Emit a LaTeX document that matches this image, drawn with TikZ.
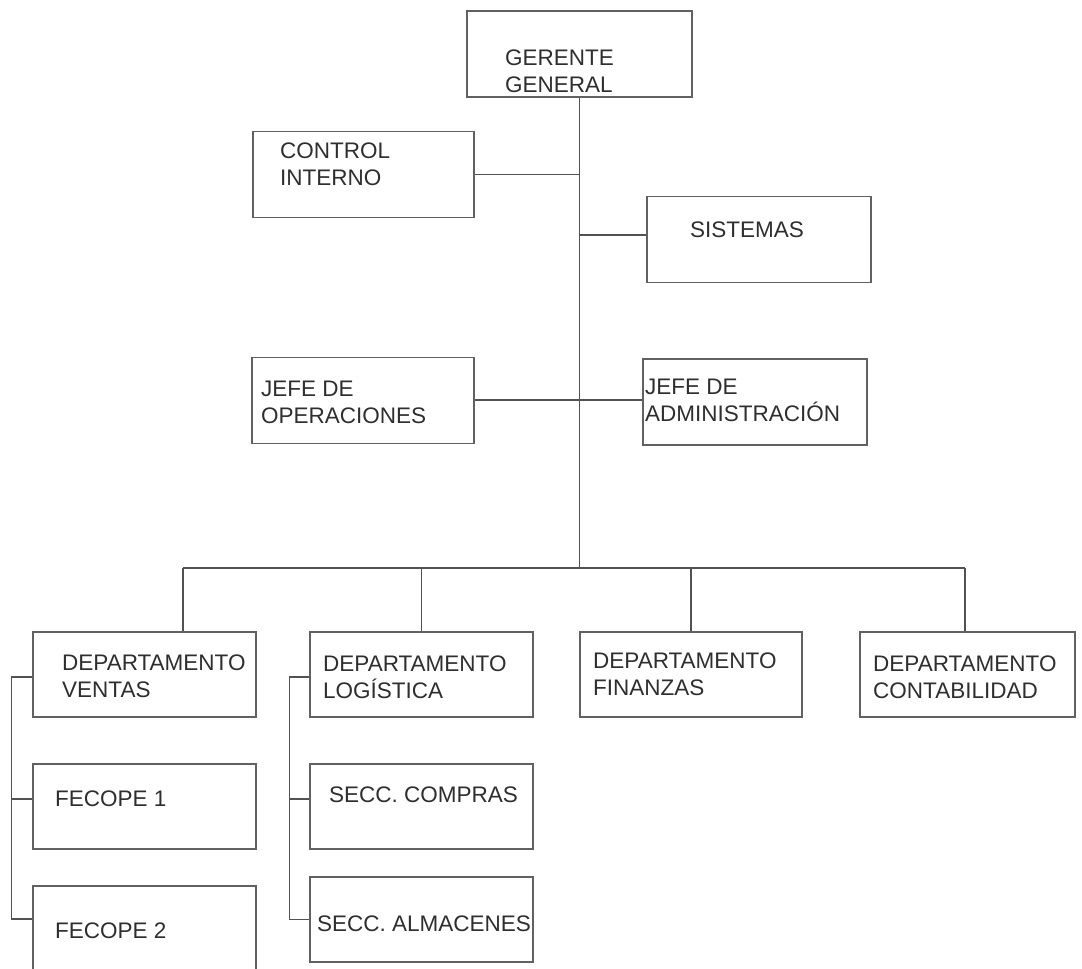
\documentclass[tikz,border=0pt]{standalone}
\usepackage{fontspec}
\setmainfont{Liberation Sans}
\usetikzlibrary{calc}
\tikzset{
	caja/.style={draw=black!62, line width=1.6pt, rectangle, inner sep=0pt, minimum width=223pt, minimum height=86pt},
	rotulo/.style={anchor=base west, inner sep=0pt, align=left, text=black!82, font=\fontsize{22.5}{26.5}\selectfont},
	linea/.style={draw=black!68, line width=1.4pt}
}

\begin{document}
\begin{tikzpicture}[x=1pt, y=-1pt]
			%%%%% START %%%%%
			\useasboundingbox (0, 0) rectangle (1082, 969);
			
			% cajas
			\node[caja, minimum width=225pt] (gerente) at (579.5, 54) {};
			\node[caja, minimum width=221pt] (control) at (363.5, 174.5) {};
			\node[caja, minimum width=224pt] (sistemas) at (759, 239.5) {};
			\node[caja, minimum width=222pt] (jefeop) at (363, 400.5) {};
			\node[caja, minimum width=224pt] (jefeadm) at (755, 402) {};
			
			\node[caja, minimum height=85pt] (dventas) at (144.5, 674.5) {};
			\node[caja, minimum height=85pt] (dlogis) at (421.5, 674.5) {};
			\node[caja, minimum height=85pt, minimum width=222pt] (dfinan) at (691, 674.5) {};
			\node[caja, minimum height=85pt, minimum width=215pt] (dconta) at (967.5, 674.5) {};
			
			\node[caja, minimum height=85pt] (fecope1) at (144.5, 806.5) {};
			\node[caja, minimum height=85pt] (fecope2) at (144.5, 928.5) {};
			\node[caja, minimum height=85pt] (compras) at (421.5, 806.5) {};
			\node[caja, minimum height=85pt] (almacenes) at (421.5, 919.5) {};
			
			% textos (base = ultima linea)
			\node[rotulo] (t-gerente) at (505, 92) {GERENTE\\GENERAL};
			\node[rotulo] (t-control) at (280, 185) {CONTROL\\INTERNO};
			\node[rotulo] (t-sistemas) at (690, 237) {SISTEMAS};
			\node[rotulo] (t-jefeop) at (261, 423) {JEFE DE\\OPERACIONES};
			\node[rotulo] (t-jefeadm) at (645, 421) {JEFE DE\\ADMINISTRACIÓN};
			\node[rotulo] (t-dventas) at (62, 697) {DEPARTAMENTO\\VENTAS};
			\node[rotulo] (t-dlogis) at (323, 698) {DEPARTAMENTO\\LOGÍSTICA};
			\node[rotulo] (t-dfinan) at (593, 695) {DEPARTAMENTO\\FINANZAS};
			\node[rotulo] (t-dconta) at (873, 698) {DEPARTAMENTO\\CONTABILIDAD};
			\node[rotulo] (t-fecope1) at (55, 806) {FECOPE 1};
			\node[rotulo] (t-fecope2) at (55, 938) {FECOPE 2};
			\node[rotulo] (t-compras) at (329, 802) {SECC. COMPRAS};
			\node[rotulo] (t-almacenes) at (317, 931) {SECC. ALMACENES};
			
			% tronco
			\coordinate (bus) at (579.5, 568);
			\coordinate (busL) at (183, 568);
			\coordinate (busR) at (965, 568);
			\draw[linea] (gerente.south) -- (bus);
			\draw[linea] (control.east) -- (control.east -| bus);
			\draw[linea] ([yshift=4.5pt]sistemas.west) -- ([yshift=4.5pt]sistemas.west -| bus);
			\draw[linea] ([yshift=0.5pt]jefeop.east) -- ([yshift=2pt]jefeadm.west);
			
			\draw[linea] (busL) -- (busR);
			\draw[linea] (busL) -- (busL |- dventas.north);
			\draw[linea] (dlogis.north) -- (dlogis.north |- bus);
			\draw[linea] (dfinan.north) -- (dfinan.north |- bus);
			\draw[linea] (busR) -- (busR |- dconta.north);
			
			% ramas laterales
			\draw[linea] ([yshift=-2.5pt]dventas.west) -- ++(-21, 0) |- ([yshift=9.5pt]fecope2.west);
			\draw[linea] ([yshift=7.5pt]fecope1.west) -- ++(-21, 0);
			\draw[linea] ([yshift=-2.5pt]dlogis.west) -- ++(-20, 0) |- (almacenes.west);
			\draw[linea] ([yshift=7.5pt]compras.west) -- ++(-20, 0);
			
			%%%%% END %%%%%
		\end{tikzpicture}
\end{document}
